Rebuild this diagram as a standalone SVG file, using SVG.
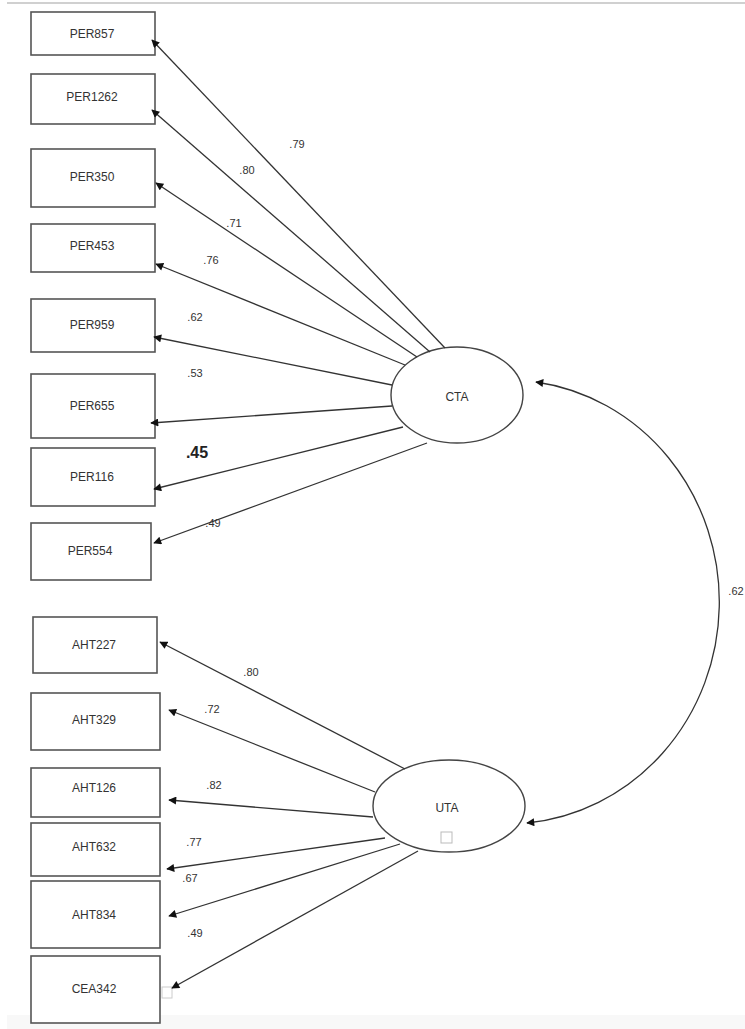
<svg xmlns="http://www.w3.org/2000/svg" width="745" height="1029" viewBox="0 0 745 1029">
<style>
.box{fill:#fff;stroke:#555;stroke-width:1.6}
.lat{fill:#fff;stroke:#444;stroke-width:1.4}
.t{font-family:"Liberation Sans",Arial,sans-serif;font-size:12px;fill:#333;text-anchor:middle;dominant-baseline:central}
.n{font-family:"Liberation Sans",Arial,sans-serif;font-size:11px;fill:#333;text-anchor:middle;dominant-baseline:central}
.c{fill:none;stroke:#333;stroke-width:1.3}
</style>
<defs>
<marker id="ah" viewBox="0 0 10 10" refX="9" refY="5" markerWidth="9" markerHeight="8" markerUnits="userSpaceOnUse" orient="auto-start-reverse">
<path d="M0,0 L10,5 L0,10 z" fill="#111"/>
</marker>
</defs>
<rect x="0" y="0" width="745" height="1029" fill="#fff"/>
<line x1="7" y1="3" x2="745" y2="3" stroke="#d0d0d0" stroke-width="2"/>
<rect x="7" y="1015" width="738" height="14" fill="#f8f8f8"/>

<g id="PER857"><rect class="box" x="31" y="12" width="124" height="43"/><text class="t" x="92" y="34">PER857</text></g>
<g id="PER1262"><rect class="box" x="31" y="74" width="124" height="50"/><text class="t" x="92" y="97">PER1262</text></g>
<g id="PER350"><rect class="box" x="31" y="149" width="124" height="58"/><text class="t" x="92" y="177">PER350</text></g>
<g id="PER453"><rect class="box" x="31" y="224" width="124" height="48"/><text class="t" x="92" y="246">PER453</text></g>
<g id="PER959"><rect class="box" x="31" y="299" width="124" height="53"/><text class="t" x="92" y="325">PER959</text></g>
<g id="PER655"><rect class="box" x="31" y="374" width="124" height="64"/><text class="t" x="92" y="406">PER655</text></g>
<g id="PER116"><rect class="box" x="31" y="448" width="124" height="58"/><text class="t" x="92" y="477">PER116</text></g>
<g id="PER554"><rect class="box" x="31" y="523" width="120" height="57"/><text class="t" x="90" y="551">PER554</text></g>

<g id="AHT227"><rect class="box" x="33" y="617" width="124" height="56"/><text class="t" x="94" y="645">AHT227</text></g>
<g id="AHT329"><rect class="box" x="31" y="693" width="129" height="57"/><text class="t" x="94" y="720">AHT329</text></g>
<g id="AHT126"><rect class="box" x="31" y="768" width="129" height="49"/><text class="t" x="94" y="788">AHT126</text></g>
<g id="AHT632"><rect class="box" x="31" y="823" width="129" height="53"/><text class="t" x="94" y="847">AHT632</text></g>
<g id="AHT834"><rect class="box" x="31" y="881" width="129" height="67"/><text class="t" x="94" y="915">AHT834</text></g>
<g id="CEA342"><rect class="box" x="31" y="956" width="129" height="67"/><text class="t" x="94" y="989">CEA342</text><rect x="162" y="987" width="10" height="11" fill="none" stroke="#ccc" stroke-width="1"/></g>

<g id="CTA"><ellipse class="lat" cx="457" cy="395" rx="66" ry="48"/><text class="t" x="457" y="397">CTA</text></g>
<g id="UTA"><ellipse class="lat" cx="449" cy="806" rx="76" ry="46"/><text class="t" x="447" y="808">UTA</text><rect x="441" y="832" width="11" height="11" fill="none" stroke="#bbb" stroke-width="1"/></g>

<g id="connectors">
<line class="c" x1="445" y1="348" x2="152" y2="40" marker-end="url(#ah)"/>
<line class="c" x1="430" y1="352" x2="152" y2="110" marker-end="url(#ah)"/>
<line class="c" x1="417" y1="357" x2="156" y2="183" marker-end="url(#ah)"/>
<line class="c" x1="405" y1="365" x2="156" y2="264" marker-end="url(#ah)"/>
<line class="c" x1="392" y1="385" x2="154" y2="337" marker-end="url(#ah)"/>
<line class="c" x1="392" y1="406" x2="151" y2="423" marker-end="url(#ah)"/>
<line class="c" x1="403" y1="427" x2="154" y2="489" marker-end="url(#ah)"/>
<line class="c" x1="427" y1="443" x2="154" y2="543" marker-end="url(#ah)"/>
<line class="c" x1="405" y1="769" x2="160" y2="642" marker-end="url(#ah)"/>
<line class="c" x1="375" y1="792" x2="169" y2="710" marker-end="url(#ah)"/>
<line class="c" x1="373" y1="817" x2="169" y2="800" marker-end="url(#ah)"/>
<line class="c" x1="385" y1="838" x2="167" y2="869" marker-end="url(#ah)"/>
<line class="c" x1="400" y1="844" x2="169" y2="916" marker-end="url(#ah)"/>
<line class="c" x1="418" y1="851" x2="172" y2="988" marker-end="url(#ah)"/>
<path class="c" d="M536,382 A212 222 0 0 1 527,823" marker-start="url(#ah)" marker-end="url(#ah)"/>
</g>

<g id="labels">
<text class="n" x="297" y="144">.79</text>
<text class="n" x="247" y="170">.80</text>
<text class="n" x="234" y="223">.71</text>
<text class="n" x="211" y="260">.76</text>
<text class="n" x="195" y="317">.62</text>
<text class="n" x="195" y="373">.53</text>
<text class="n" x="197" y="452" style="font-size:16px;font-weight:bold;fill:#222">.45</text>
<text class="n" x="213" y="523">.49</text>
<text class="n" x="251" y="672">.80</text>
<text class="n" x="212" y="709">.72</text>
<text class="n" x="214" y="785">.82</text>
<text class="n" x="194" y="842">.77</text>
<text class="n" x="190" y="878">.67</text>
<text class="n" x="195" y="933">.49</text>
<text class="n" x="736" y="591">.62</text>
</g>
</svg>
